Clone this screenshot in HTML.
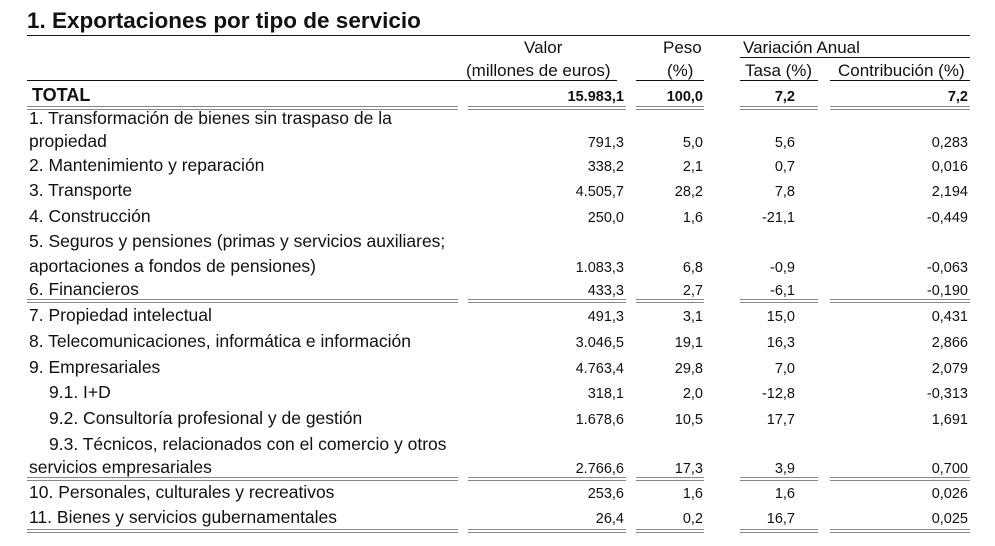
<!DOCTYPE html>
<html><head><meta charset="utf-8"><style>
body{margin:0;width:995px;height:546px;background:#fff;font-family:"Liberation Sans",Arial,sans-serif;color:#111;position:relative;overflow:hidden}
.t{position:absolute;white-space:nowrap;font-size:17.5px;line-height:19px}
.h{font-size:17px}
.r{text-align:right}
.n{font-size:14.5px}
.l{position:absolute;height:0;border-top:1.5px solid #111}
.g{position:absolute;height:2px;border-top:1px solid #888;border-bottom:1px solid #888}
</style></head><body>
<div class="t" style="left:27px;top:7px;font-size:22.5px;line-height:27px;font-weight:bold">1. Exportaciones por tipo de servicio</div>
<div class="l" style="left:27px;top:35px;width:943px"></div>
<div class="t h" style="left:524px;top:38px">Valor</div>
<div class="t h" style="left:663px;top:38px">Peso</div>
<div class="t h" style="left:743px;top:38px">Variación Anual</div>
<div class="l" style="left:740px;top:57px;width:230px;border-top-width:1px"></div>
<div class="t h" style="left:466px;top:61px">(millones de euros)</div>
<div class="t h" style="left:667px;top:61px">(%)</div>
<div class="t h" style="left:745px;top:61px">Tasa (%)</div>
<div class="t h" style="left:838px;top:61px">Contribución (%)</div>
<div class="l" style="left:27px;top:80px;width:590px;border-top-width:1px"></div>
<div class="l" style="left:636px;top:80px;width:68px;border-top-width:1px"></div>
<div class="l" style="left:740px;top:80px;width:78px;border-top-width:1px"></div>
<div class="l" style="left:830px;top:80px;width:140px;border-top-width:1px"></div>
<div class="t" style="left:32px;top:86px;font-weight:bold;font-size:18px">TOTAL</div>
<div class="t r n" style="right:371px;top:88px;font-weight:bold">15.983,1</div>
<div class="t r n" style="right:292px;top:88px;font-weight:bold">100,0</div>
<div class="t r n" style="right:200px;top:88px;font-weight:bold">7,2</div>
<div class="t r n" style="right:27px;top:88px;font-weight:bold">7,2</div>
<div id="rows"></div>
<script>
var rows=[
[109,"1. Transformación de bienes sin traspaso de la",null],
[132,"propiedad",["791,3","5,0","5,6","0,283"]],
[156,"2. Mantenimiento y reparación",["338,2","2,1","0,7","0,016"]],
[181,"3. Transporte",["4.505,7","28,2","7,8","2,194"]],
[207,"4. Construcción",["250,0","1,6","-21,1","-0,449"]],
[232,"5. Seguros y pensiones  (primas y servicios auxiliares;",null],
[257,"aportaciones a fondos de pensiones)",["1.083,3","6,8","-0,9","-0,063"]],
[280,"6. Financieros",["433,3","2,7","-6,1","-0,190"]],
[306,"7. Propiedad intelectual",["491,3","3,1","15,0","0,431"]],
[332,"8. Telecomunicaciones, informática e información",["3.046,5","19,1","16,3","2,866"]],
[358,"9. Empresariales",["4.763,4","29,8","7,0","2,079"]],
[383,"   9.1. I+D",["318,1","2,0","-12,8","-0,313"]],
[409,"   9.2. Consultoría profesional y de gestión",["1.678,6","10,5","17,7","1,691"]],
[435,"   9.3. Técnicos, relacionados con el comercio y otros",null],
[458,"servicios empresariales",["2.766,6","17,3","3,9","0,700"]],
[483,"10. Personales, culturales y recreativos",["253,6","1,6","1,6","0,026"]],
[508,"11. Bienes y servicios gubernamentales",["26,4","0,2","16,7","0,025"]]];
var rs=[371,292,200,27],h="";
rows.forEach(function(r){
 var lbl=r[1].replace(/^   /,"");var ind=r[1].indexOf("   ")==0?20:0;
 h+='<div class="t" style="left:'+(29+ind)+'px;top:'+r[0]+'px">'+lbl+'</div>';
 if(r[2])r[2].forEach(function(v,i){h+='<div class="t r n" style="right:'+rs[i]+'px;top:'+(r[0]+2)+'px">'+v+'</div>';});
});
[106,299,477,529].forEach(function(y){
 [[27,458],[468,626],[636,704],[740,818],[830,970]].forEach(function(s){
  h+='<div class="g" style="left:'+s[0]+'px;top:'+y+'px;width:'+(s[1]-s[0])+'px"></div>';});
});
document.getElementById("rows").innerHTML=h;
</script>
</body></html>
